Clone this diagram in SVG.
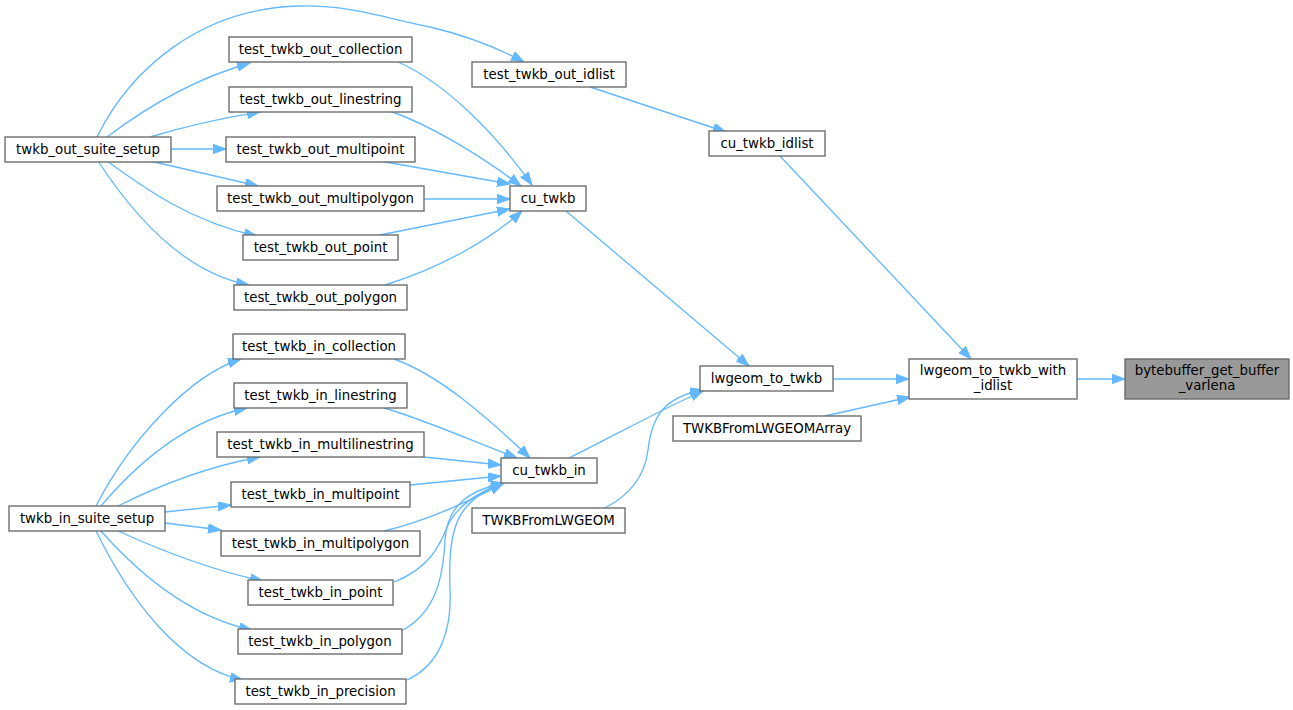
<svg xmlns="http://www.w3.org/2000/svg" width="1293" height="710" viewBox="0 0 1293 710">
<style>
.n rect{fill:#ffffff;stroke:#666666;stroke-width:1.33}
.n text{font-family:"DejaVu Sans","Liberation Sans",sans-serif;font-size:13.33px;fill:#000000;text-anchor:middle}
.e path{fill:none;stroke:#63b8ff;stroke-width:1.33;marker-end:url(#ah)}
</style>
<defs>
<marker id="ah" markerUnits="userSpaceOnUse" markerWidth="14" markerHeight="10" refX="13" refY="4.7" orient="auto">
<path d="M0,0 L13,4.7 L0,9.4 Z" fill="#63b8ff" stroke="#63b8ff" stroke-width="1"/>
</marker>
</defs>
<rect width="1293" height="710" fill="#ffffff"/>
<g class="e" id="edges">
<path d="M107,137 C140,112 190,80 250,63"/>
<path d="M150,137 C180,128 215,119 260,112"/>
<path d="M171,149 L226,149"/>
<path d="M150,161 L258,186"/>
<path d="M107,161 C140,185 190,222 257,236"/>
<path d="M98,161 C130,210 180,272 249,285"/>
<path d="M97,137 C130,70 200,8 300,6 C350,5 385,18 430,27 C468,36 498,48 524,62"/>
<path d="M398,62 C450,85 500,140 532,185"/>
<path d="M390,111 C430,125 480,155 521,186"/>
<path d="M380,161 L510,184"/>
<path d="M424,199 L510,199"/>
<path d="M380,235 L510,209"/>
<path d="M385,285 C440,268 490,240 522,211"/>
<path d="M590,87 L726,132"/>
<path d="M780,156 L971,359"/>
<path d="M566,211 L749,366"/>
<path d="M833,379 L909,379"/>
<path d="M825,416 L910,397"/>
<path d="M1077,379 L1125,379"/>
<path d="M569,458 C610,438 660,410 703,391"/>
<path d="M605,508 C630,495 645,475 648,450 C652,415 665,397 703,390"/>
<path d="M96,506 C130,440 190,375 241,359"/>
<path d="M101,506 C140,460 190,420 247,408"/>
<path d="M118,506 C160,485 210,466 260,457"/>
<path d="M165,512 L231,505"/>
<path d="M165,523 L221,530"/>
<path d="M118,531 C160,550 210,570 263,581"/>
<path d="M101,531 C140,575 190,617 252,630"/>
<path d="M96,531 C130,600 180,667 243,680"/>
<path d="M394,359 C440,375 490,420 530,458"/>
<path d="M384,408 C420,418 470,440 517,458"/>
<path d="M424,457 L501,465"/>
<path d="M410,485 L501,476"/>
<path d="M384,531 C430,520 470,500 503,484"/>
<path d="M394,582 C430,568 440,545 448,525 C458,505 478,492 504,483"/>
<path d="M403,630 C435,612 443,580 445,540 C447,505 470,490 504,483"/>
<path d="M407,680 C440,665 452,630 450,590 C448,530 455,500 504,483"/>
</g>
<g class="n" id="bytebuffer_get_buffer_varlena"><rect x="1125" y="359" width="164" height="40" style="fill:#999999"/><text x="1207" y="375">bytebuffer_get_buffer</text><text x="1207" y="390">_varlena</text></g>
<g class="n" id="lwgeom_to_twkb_with_idlist"><rect x="909" y="359" width="168" height="40"/><text x="993" y="375">lwgeom_to_twkb_with</text><text x="993" y="390">_idlist</text></g>
<g class="n" id="lwgeom_to_twkb"><rect x="700" y="366" width="133" height="25"/><text x="766.5" y="383">lwgeom_to_twkb</text></g>
<g class="n" id="TWKBFromLWGEOMArray"><rect x="673" y="416" width="188" height="25"/><text x="767" y="433">TWKBFromLWGEOMArray</text></g>
<g class="n" id="cu_twkb_idlist"><rect x="709" y="131" width="116" height="25"/><text x="767" y="148">cu_twkb_idlist</text></g>
<g class="n" id="test_twkb_out_idlist"><rect x="472" y="62" width="154" height="25"/><text x="549" y="79">test_twkb_out_idlist</text></g>
<g class="n" id="cu_twkb"><rect x="510" y="186" width="76" height="25"/><text x="548" y="203">cu_twkb</text></g>
<g class="n" id="cu_twkb_in"><rect x="501" y="458" width="96" height="25"/><text x="549" y="475">cu_twkb_in</text></g>
<g class="n" id="TWKBFromLWGEOM"><rect x="472" y="508" width="153" height="25"/><text x="548.5" y="525">TWKBFromLWGEOM</text></g>
<g class="n" id="twkb_out_suite_setup"><rect x="5" y="137" width="166" height="25"/><text x="88" y="154">twkb_out_suite_setup</text></g>
<g class="n" id="twkb_in_suite_setup"><rect x="9" y="506" width="156" height="25"/><text x="87" y="523">twkb_in_suite_setup</text></g>
<g class="n" id="test_twkb_out_collection"><rect x="229" y="37" width="183" height="25"/><text x="320.5" y="54">test_twkb_out_collection</text></g>
<g class="n" id="test_twkb_out_linestring"><rect x="229" y="87" width="183" height="25"/><text x="320.5" y="104">test_twkb_out_linestring</text></g>
<g class="n" id="test_twkb_out_multipoint"><rect x="226" y="137" width="189" height="25"/><text x="320.5" y="154">test_twkb_out_multipoint</text></g>
<g class="n" id="test_twkb_out_multipolygon"><rect x="217" y="186" width="207" height="25"/><text x="320.5" y="203">test_twkb_out_multipolygon</text></g>
<g class="n" id="test_twkb_out_point"><rect x="243" y="235" width="155" height="25"/><text x="320.5" y="252">test_twkb_out_point</text></g>
<g class="n" id="test_twkb_out_polygon"><rect x="234" y="285" width="173" height="25"/><text x="320.5" y="302">test_twkb_out_polygon</text></g>
<g class="n" id="test_twkb_in_collection"><rect x="233" y="334" width="172" height="25"/><text x="319" y="351">test_twkb_in_collection</text></g>
<g class="n" id="test_twkb_in_linestring"><rect x="234" y="383" width="173" height="25"/><text x="320.5" y="400">test_twkb_in_linestring</text></g>
<g class="n" id="test_twkb_in_multilinestring"><rect x="217" y="432" width="207" height="25"/><text x="320.5" y="449">test_twkb_in_multilinestring</text></g>
<g class="n" id="test_twkb_in_multipoint"><rect x="231" y="482" width="179" height="25"/><text x="320.5" y="499">test_twkb_in_multipoint</text></g>
<g class="n" id="test_twkb_in_multipolygon"><rect x="221" y="531" width="199" height="25"/><text x="320.5" y="548">test_twkb_in_multipolygon</text></g>
<g class="n" id="test_twkb_in_point"><rect x="248" y="580" width="145" height="25"/><text x="320.5" y="597">test_twkb_in_point</text></g>
<g class="n" id="test_twkb_in_polygon"><rect x="238" y="629" width="164" height="25"/><text x="320" y="646">test_twkb_in_polygon</text></g>
<g class="n" id="test_twkb_in_precision"><rect x="235" y="679" width="171" height="25"/><text x="320.5" y="696">test_twkb_in_precision</text></g>
</svg>
